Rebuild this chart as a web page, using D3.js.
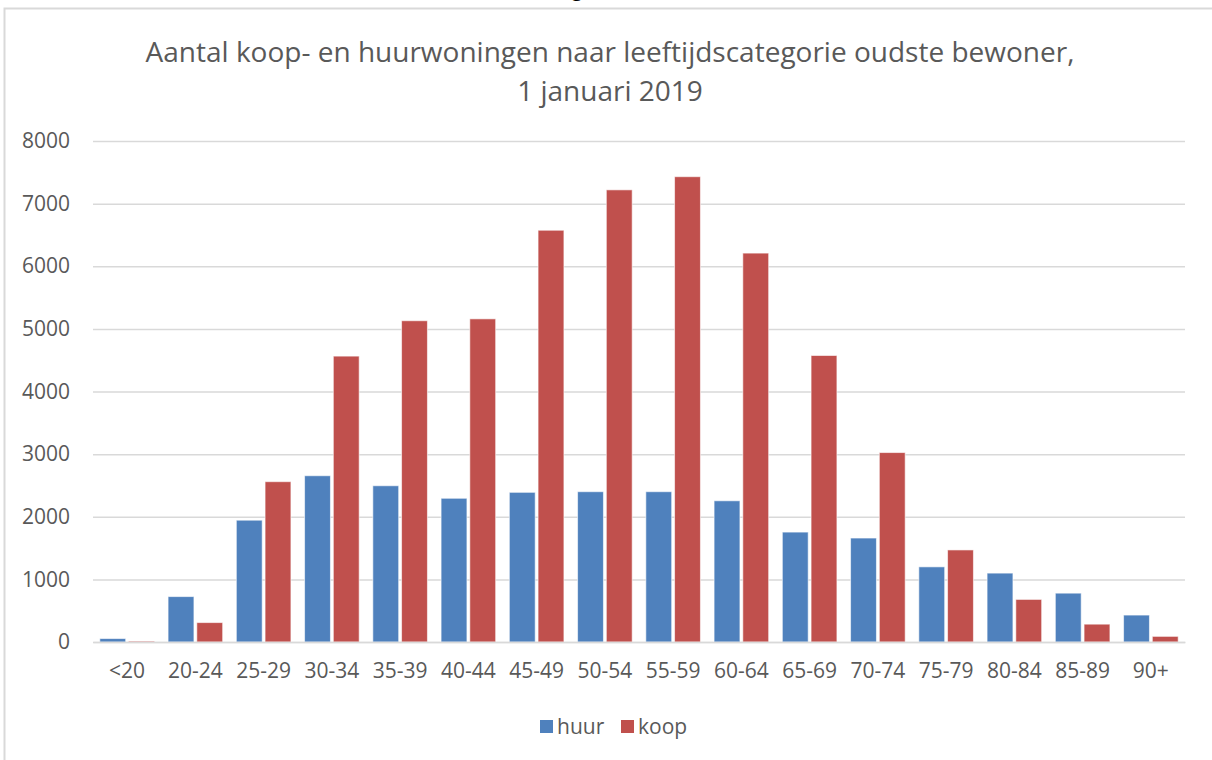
<!DOCTYPE html>
<html>
<head>
<meta charset="utf-8">
<script src="https://cdn.jsdelivr.net/npm/d3@7"></script>
<style>
  body { margin: 0; background: #fff; }
  text { font-family: "Open Sans", sans-serif; fill: #595959; }
</style>
</head>
<body>
<script>
// categories (leeftijd oudste bewoner)
var categories = ["<20", "20-24", "25-29", "30-34", "35-39", "40-44", "45-49", "50-54",
                  "55-59", "60-64", "65-69", "70-74", "75-79", "80-84", "85-89", "90+"];
// series values
var huur = [55, 725, 1945, 2655, 2495, 2295, 2390, 2400, 2400, 2255, 1755, 1660, 1200, 1100, 780, 430];
var koop = [15, 310, 2560, 4565, 5130, 5160, 6575, 7220, 7430, 6210, 4575, 3025, 1470, 680, 285, 90];
var seriesNames = ["huur", "koop"];
var seriesColors = ["#4f81bd", "#c0504d"];
var yTicks = [0, 1000, 2000, 3000, 4000, 5000, 6000, 7000, 8000];
var titleLines = ["Aantal koop- en huurwoningen naar leeftijdscategorie oudste bewoner,", "1 januari 2019"];

var width = 1212;
var height = 760;

var svg = d3.select("body")
    .append("svg")
    .attr("width", width)
    .attr("height", height);

// chart frame (runs off the right and bottom of the picture)
svg.append("rect")
    .attr("x", 4.5)
    .attr("y", 8.5)
    .attr("width", 1300)
    .attr("height", 800)
    .attr("fill", "#fff")
    .attr("stroke", "#d9d9d9")
    .attr("stroke-width", 2);

// cut-off glyph above the frame
svg.append("text")
    .attr("x", 572)
    .attr("y", -3)
    .style("fill", "#000")
    .style("font-weight", "bold")
    .style("font-size", "18px")
    .text("g");

// title
svg.selectAll(".title")
    .data(titleLines)
    .enter()
    .append("text")
    .attr("class", "title")
    .attr("x", 610)
    .attr("y", function(d, i){ return 62 + i * 39; })
    .attr("text-anchor", "middle")
    .style("font-size", "28px")
    .text(function(d){ return d; });

var plotLeft = 93, plotRight = 1185, plotTop = 141, plotBottom = 642;

var x = d3.scaleBand()
    .domain(categories)
    .range([plotLeft, plotRight])
    .paddingInner(0.2)
    .paddingOuter(0.1);

var xSub = d3.scaleBand()
    .domain(seriesNames)
    .range([0, x.bandwidth()])
    .paddingInner(0.1);

var y = d3.scaleLinear()
    .domain([0, 8000])
    .range([plotBottom, plotTop]);

// gridlines + y labels
var yAxis = d3.axisLeft(y)
    .tickValues(yTicks)
    .tickFormat(d3.format("d"))
    .tickSize(-(plotRight - plotLeft))
    .tickPadding(23);

var gy = svg.append("g")
    .attr("transform", "translate(" + plotLeft + ",0)")
    .call(yAxis);
gy.select(".domain").remove();
gy.selectAll(".tick line")
    .attr("stroke", "#d9d9d9")
    .attr("stroke-width", 1.5);
gy.selectAll(".tick text")
    .style("font-size", "21px")
    .style("fill", "#595959")
    .style("font-family", "'Open Sans', sans-serif");

// bars
var rows = categories.map(function(c, i){
    return {cat: c, values: [{key: "huur", v: huur[i]}, {key: "koop", v: koop[i]}]};
});

var groups = svg.selectAll(".grp")
    .data(rows)
    .enter()
    .append("g")
    .attr("class", "grp")
    .attr("transform", function(d){ return "translate(" + x(d.cat) + ",0)"; });

groups.selectAll("rect")
    .data(function(d){ return d.values; })
    .enter()
    .append("rect")
    .attr("x", function(d){ return xSub(d.key); })
    .attr("width", xSub.bandwidth())
    .attr("y", function(d){ return y(d.v); })
    .attr("height", function(d){ return plotBottom - y(d.v); })
    .attr("fill", function(d, i){ return seriesColors[i]; })
    .attr("stroke", "#fff")
    .attr("stroke-opacity", 0.6)
    .attr("stroke-width", 1);

// x axis line + labels
var xAxis = d3.axisBottom(x).tickSize(0).tickPadding(21);
var gx = svg.append("g")
    .attr("transform", "translate(0," + plotBottom + ")")
    .call(xAxis);
gx.select(".domain")
    .attr("stroke", "#d9d9d9")
    .attr("stroke-width", 1.5);
gx.selectAll(".tick text")
    .style("font-size", "21px")
    .style("fill", "#595959")
    .style("font-family", "'Open Sans', sans-serif");

// legend
var legend = svg.selectAll(".leg")
    .data(seriesNames)
    .enter()
    .append("g")
    .attr("class", "leg")
    .attr("transform", function(d, i){ return "translate(" + (540 + i * 81) + ",720)"; });

legend.append("rect")
    .attr("width", 13)
    .attr("height", 13)
    .attr("fill", function(d, i){ return seriesColors[i]; });

legend.append("text")
    .attr("x", 17)
    .attr("y", 14)
    .style("font-size", "21px")
    .text(function(d){ return d; });
</script>
</body>
</html>
